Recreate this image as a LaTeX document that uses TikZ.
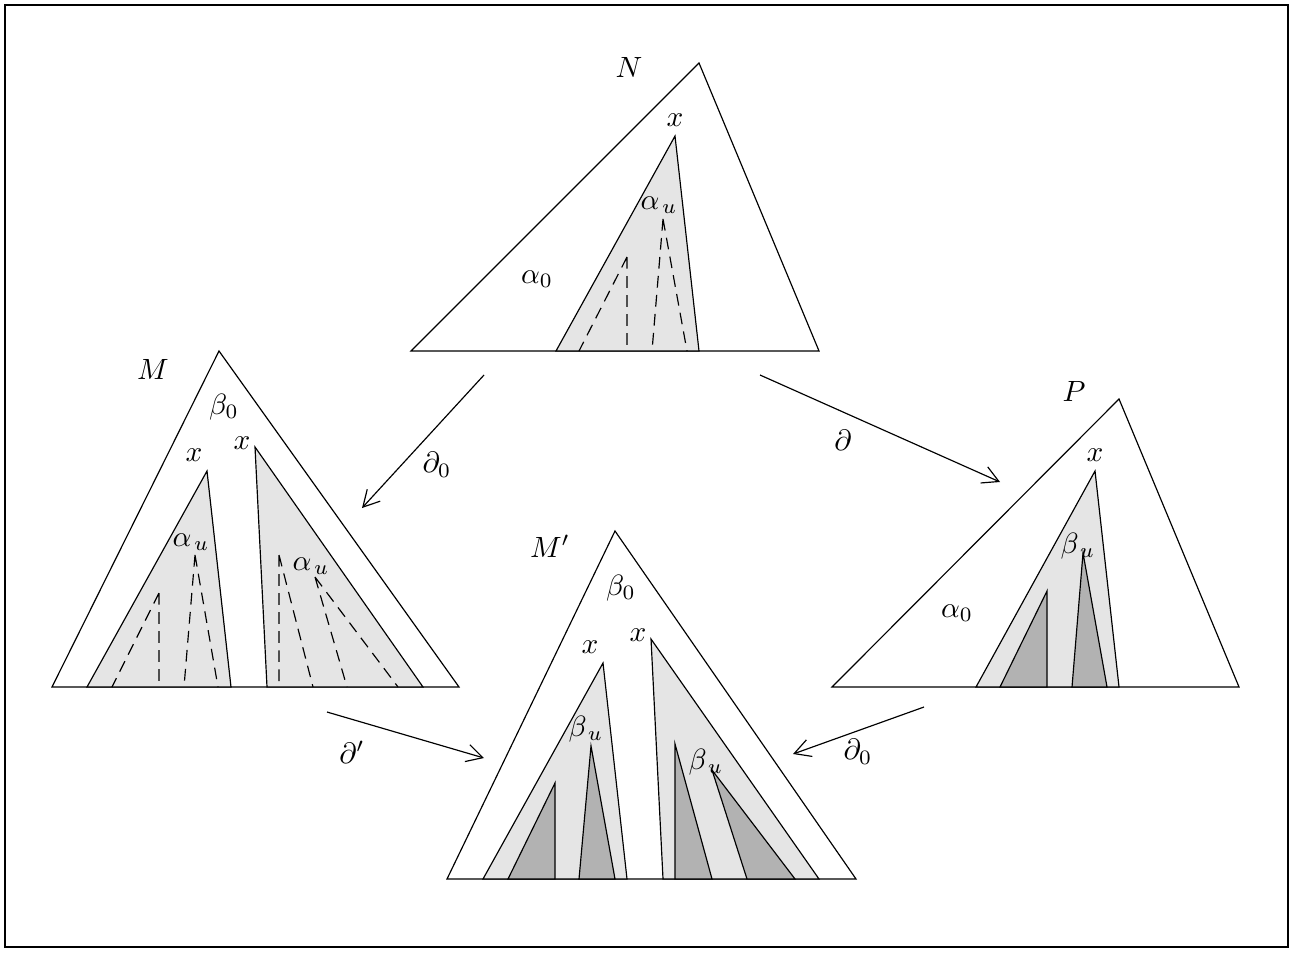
\documentclass[tikz,border=0pt]{standalone}
\usepackage{amsmath,amssymb}
\usepackage{tikz}
\usetikzlibrary{arrows.meta}
\newcommand{\au}{\alpha_{\mkern2mu u}}
\newcommand{\bu}{\beta_{\mkern2mu u}}
\tikzset{
  tri/.style={draw=black, fill=white},
  light/.style={draw=black, fill=black!10},
  dark/.style={draw=black, fill=black!30},
  part/.style={draw=black, dash pattern=on 4pt off 2.5pt},
  lbl/.style={inner sep=0pt},
  arrow/.style={-{Straight Barb[length=5.5pt,width=6pt]}},
}
\begin{document}
\begin{tikzpicture}[x=0.012cm, y=-0.012cm]
  \useasboundingbox (0,0) rectangle (1294,952);
  \draw (5,5) rectangle (1288,947);

  % Tree N
  \draw[tri] (411,351) -- (699,63) -- (819,351) -- cycle;
  \draw[light] (556,351) -- (675,136) -- (699,351) -- cycle;
  \draw[part] (627,257) -- (579,351) (627,257) -- (627,351);
  \draw[part] (663,219) -- (652,351) (663,219) -- (687,351);
  \node[lbl] (nameN) at (629,67) {$N$};
  \node[lbl] (xN) at (675,120) {$x$};
  \node[lbl] (auN) at (659,205) {$\au$};
  \node[lbl] (a0N) at (537,279) {$\alpha_0$};

  % Tree M
  \draw[tri] (52,687) -- (219,351) -- (459,687) -- cycle;
  \draw[light] (87,687) -- (207,471) -- (231,687) -- cycle;
  \draw[light] (267,687) -- (255,447) -- (423,687) -- cycle;
  \draw[part] (159,593) -- (112,687) (159,593) -- (159,687);
  \draw[part] (195,555) -- (184,687) (195,555) -- (218,687);
  \draw[part] (279,555) -- (279,687) (279,555) -- (313,687);
  \draw[part] (315,577) -- (347,687) (315,577) -- (398,687);
  \node[lbl] (nameM) at (153,369) {$M$};
  \node[lbl] (b0M) at (224,407) {$\beta_0$};
  \node[lbl] (xM1) at (194,455) {$x$};
  \node[lbl] (xM2) at (242,443) {$x$};
  \node[lbl] (auM1) at (191,542) {$\au$};
  \node[lbl] (auM2) at (311,566) {$\au$};

  % Tree P
  \draw[tri] (832,687) -- (1119,399) -- (1239,687) -- cycle;
  \draw[light] (976,687) -- (1095,471) -- (1119,687) -- cycle;
  \draw[dark] (1000,687) -- (1047,591) -- (1047,687) -- cycle;
  \draw[dark] (1072,687) -- (1083,553) -- (1107,687) -- cycle;
  \node[lbl] (nameP) at (1074,391) {$P$};
  \node[lbl] (xP) at (1095,455) {$x$};
  \node[lbl] (buP) at (1078,546) {$\bu$};
  \node[lbl] (a0P) at (957,613) {$\alpha_0$};

  % Tree M'
  \draw[tri] (447,879) -- (615,531) -- (856,879) -- cycle;
  \draw[light] (483,879) -- (603,663) -- (627,879) -- cycle;
  \draw[light] (663,879) -- (651,639) -- (819,879) -- cycle;
  \draw[dark] (508,879) -- (555,783) -- (555,879) -- cycle;
  \draw[dark] (579,879) -- (591,746) -- (615,879) -- cycle;
  \draw[dark] (675,879) -- (675,744) -- (712,879) -- cycle;
  \draw[dark] (747,879) -- (712,770) -- (795,879) -- cycle;
  \node[lbl] (nameMp) at (550,546) {$M'$};
  \node[lbl] (b0Mp) at (621,588) {$\beta_0$};
  \node[lbl] (xMp1) at (590,647) {$x$};
  \node[lbl] (xMp2) at (638,635) {$x$};
  \node[lbl] (buMp1) at (586,729) {$\bu$};
  \node[lbl] (buMp2) at (706,762) {$\bu$};

  % Maps
  \coordinate (NtoM) at (484,375);  \coordinate (Min) at (362,508);
  \coordinate (NtoP) at (760,375);  \coordinate (Pin) at (1000,482);
  \coordinate (MtoMp) at (327,712); \coordinate (Mpl) at (484,758);
  \coordinate (PtoMp) at (924,707); \coordinate (Mpr) at (793,754);
  \draw[arrow] (NtoM) -- (Min);
  \draw[arrow] (NtoP) -- (Pin);
  \draw[arrow] (MtoMp) -- (Mpl);
  \draw[arrow] (PtoMp) -- (Mpr);
  \node[lbl] (d0a) at (437,465) {$\partial_0$};
  \node[lbl] (d) at (843,440) {$\partial$};
  \node[lbl] (dp) at (352,752) {$\partial'$};
  \node[lbl] (d0b) at (858,752) {$\partial_0$};
\end{tikzpicture}
\end{document}
